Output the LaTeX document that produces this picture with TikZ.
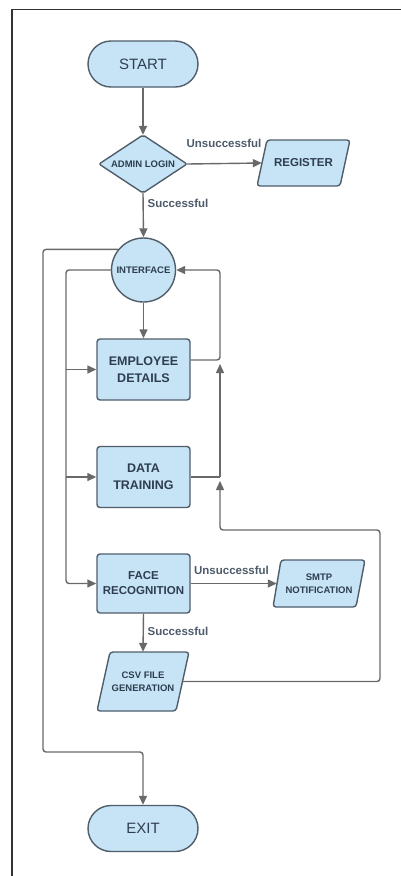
\documentclass[tikz,border=0pt]{standalone}
\usepackage{fontspec}
\setmainfont{Liberation Sans}
\usetikzlibrary{arrows.meta,calc}
\definecolor{boxfill}{HTML}{C6E4F5}
\definecolor{boxdraw}{HTML}{505E6C}
\definecolor{linec}{HTML}{696969}
\definecolor{txt}{HTML}{2E3E50}
\tikzset{
  base/.style={draw=boxdraw, fill=boxfill, line width=1.4pt, text=txt, inner sep=0pt, align=center},
  term/.style={base, rectangle, rounded corners=23pt, minimum width=110pt, minimum height=46pt, font=\fontsize{15}{17}\selectfont},
  proc/.style={base, rectangle, rounded corners=3pt, minimum width=93pt, minimum height=61pt},
  iotext/.style={text=txt, inner sep=0pt, align=center, minimum height=46pt},
  iobox/.style={draw=boxdraw, fill=boxfill, line width=1.4pt, rounded corners=3pt},
  conn/.style={draw=linec, line width=1.4pt, rounded corners=3pt},
  arr/.style={conn, -{Triangle[length=9pt,width=8pt]}, color=linec},
  lbl/.style={text=txt!85, font=\fontsize{11.5}{13}\selectfont\bfseries, inner sep=0pt}
}
\begin{document}
\begin{tikzpicture}[x=1pt,y=-1pt]
\useasboundingbox (0,0) rectangle (401,876);
\fill[white] (0,0) rectangle (401,876);
\draw[line width=1.6pt, black!80] (12,876) -- (12,9.5) -- (401,9.5);

% START
\node[term] (start) at (143,64) {START};

% ADMIN LOGIN diamond
\filldraw[iobox, rounded corners=2pt] (143,135) -- (187,164) -- (143,193) -- (99,164) -- cycle;
\node[text=txt, inner sep=0pt, minimum width=88pt, minimum height=58pt, font=\fontsize{9.5}{11}\selectfont\bfseries] (admin) at (143,164) {ADMIN LOGIN};

% REGISTER
\filldraw[iobox] (257,186) -- (267,140) -- (350,140) -- (340,186) -- cycle;
\node[iotext, minimum width=83pt, font=\fontsize{11.5}{13}\selectfont\bfseries] (reg) at (303.5,163) {REGISTER};

% INTERFACE
\node[base, circle, minimum size=64pt, font=\fontsize{9.5}{11}\selectfont\bfseries] (iface) at (143.5,270) {INTERFACE};

% boxes
\node[proc, font=\fontsize{12.5}{16.5}\selectfont\bfseries] (emp) at (143.5,369.5) {EMPLOYEE\\DETAILS};
\node[proc, font=\fontsize{12.5}{16.5}\selectfont\bfseries] (dt) at (143.5,477) {DATA\\TRAINING};
\node[proc, minimum height=59pt, font=\fontsize{11.5}{15}\selectfont\bfseries] (face) at (143.5,583.5) {FACE\\RECOGNITION};

% SMTP
\filldraw[iobox] (273,607) -- (281,560) -- (365,560) -- (356,607) -- cycle;
\node[iotext, minimum width=84pt, minimum height=47pt, font=\fontsize{9.5}{13}\selectfont\bfseries] (smtp) at (319,583.5) {SMTP\\NOTIFICATION};

% CSV
\filldraw[iobox] (97,711) -- (110,652) -- (189,652) -- (176,711) -- cycle;
\node[iotext, minimum width=79pt, minimum height=59pt, font=\fontsize{9.5}{12.5}\selectfont\bfseries] (csv) at (143,681.5) {CSV FILE\\GENERATION};

% EXIT
\node[term] (exit) at (143,828.5) {EXIT};

% coordinates
\coordinate (c1) at (43,752);
\coordinate (lbus) at (66,583.5);
\coordinate (rb1) at (220,360);
\coordinate (rb1a) at (220,364);
\coordinate (rb2) at (220,477);
\coordinate (rb2a) at (220,481);
\coordinate (rb3) at (220,530);
\coordinate (cr) at (380,530);

% connectors
\draw[arr] (start) -- (admin.north);
\draw[arr] (admin.east) -- (reg.west);
\node[lbl] (l1) at (224,143) {Unsuccessful};
\draw[arr] (admin.south) -- (iface.north);
\node[lbl] (l2) at (178,203) {Successful};
\draw[arr] (iface.south) -- (emp.north);

\draw[arr] (iface.141) -| (c1) -| (exit.north);
\draw[arr] (iface.west) -| (lbus) -- (face.west);
\draw[arr] (lbus |- emp.west) -- (emp.west);
\draw[arr] (lbus |- dt.west) -- (dt.west);

\draw[arr] (emp.east |- rb1) -- (rb1) |- (iface.east);
\draw[conn] (dt.east) -- (rb2);
\draw[arr, rounded corners=0pt] (rb2) -- (rb1a);
\draw[arr] (csv.east) -| (cr) -- (rb3) -- (rb2a);

\draw[arr] (face.east) -- (smtp.west);
\node[lbl] (l3) at (231.5,570) {Unsuccessful};
\draw[arr] (face.south) -- (csv.north);
\node[lbl] (l4) at (178,631) {Successful};
\end{tikzpicture}
\end{document}
